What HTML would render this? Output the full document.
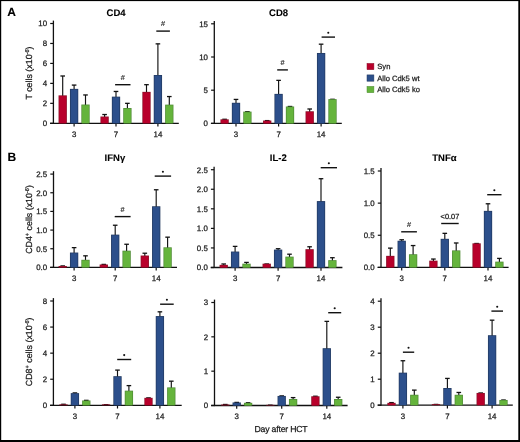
<!DOCTYPE html>
<html><head><meta charset="utf-8"><style>
html,body{margin:0;padding:0;background:#fff;}
body{width:520px;height:442px;overflow:hidden;}
svg{display:block;filter:blur(0.4px);}
text{text-rendering:geometricPrecision;font-family:"Liberation Sans",sans-serif;fill:#1a1a1a;stroke:#1a1a1a;stroke-width:0.25px;}
.tk{font-size:7.9px;}
.ti{font-size:9.5px;font-weight:bold;fill:#000;stroke:#000;stroke-width:0.1px;}
.pl{font-size:12px;font-weight:bold;fill:#000;stroke:#000;stroke-width:0.1px;}
.yl{font-size:8.85px;}
.sp{font-size:5.6px;}
.xl{font-size:8.7px;letter-spacing:-0.2px;}
.lg{font-size:7.6px;}
.st{font-size:7.5px;font-weight:bold;}
.hs{font-size:7.3px;stroke-width:0.15px;}
.lt{font-size:7.4px;}
</style></head><body>
<svg width="520" height="442" viewBox="0 0 520 442">
<rect width="520" height="442" fill="#fff"/>
<line x1="53.4" y1="20.6" x2="53.4" y2="123.9" stroke="#111" stroke-width="1.3"/>
<line x1="50" y1="123.3" x2="178.8" y2="123.3" stroke="#111" stroke-width="1.3"/>
<line x1="50.2" y1="123.3" x2="53.4" y2="123.3" stroke="#111" stroke-width="1.2"/>
<text x="47.1" y="126.1" class="tk" text-anchor="end">0</text>
<line x1="50.2" y1="103.34" x2="53.4" y2="103.34" stroke="#111" stroke-width="1.2"/>
<text x="47.1" y="106.14" class="tk" text-anchor="end">2</text>
<line x1="50.2" y1="83.38" x2="53.4" y2="83.38" stroke="#111" stroke-width="1.2"/>
<text x="47.1" y="86.18" class="tk" text-anchor="end">4</text>
<line x1="50.2" y1="63.42" x2="53.4" y2="63.42" stroke="#111" stroke-width="1.2"/>
<text x="47.1" y="66.22" class="tk" text-anchor="end">6</text>
<line x1="50.2" y1="43.46" x2="53.4" y2="43.46" stroke="#111" stroke-width="1.2"/>
<text x="47.1" y="46.26" class="tk" text-anchor="end">8</text>
<line x1="50.2" y1="23.5" x2="53.4" y2="23.5" stroke="#111" stroke-width="1.2"/>
<text x="47.1" y="26.3" class="tk" text-anchor="end">10</text>
<line x1="74.1" y1="123.3" x2="74.1" y2="126.5" stroke="#111" stroke-width="1.2"/>
<text x="74.1" y="136.7" class="tk" text-anchor="middle">3</text>
<line x1="62.7" y1="75.99" x2="62.7" y2="96.16" stroke="#111" stroke-width="1.15"/>
<line x1="60.4" y1="75.99" x2="65" y2="75.99" stroke="#111" stroke-width="1.3"/>
<rect x="58.55" y="95.36" width="8.3" height="27.94" fill="#8a1028"/>
<rect x="59.25" y="96.06" width="6.9" height="27.24" fill="#b8002b"/>
<line x1="74.1" y1="85.08" x2="74.1" y2="89.67" stroke="#111" stroke-width="1.15"/>
<line x1="71.8" y1="85.08" x2="76.4" y2="85.08" stroke="#111" stroke-width="1.3"/>
<rect x="69.95" y="88.87" width="8.3" height="34.43" fill="#22395f"/>
<rect x="70.65" y="89.57" width="6.9" height="33.73" fill="#2c4f8b"/>
<line x1="85.5" y1="94.96" x2="85.5" y2="105.34" stroke="#111" stroke-width="1.15"/>
<line x1="83.2" y1="94.96" x2="87.8" y2="94.96" stroke="#111" stroke-width="1.3"/>
<rect x="81.35" y="104.54" width="8.3" height="18.76" fill="#4f8a35"/>
<rect x="82.05" y="105.24" width="6.9" height="18.06" fill="#65b43c"/>
<line x1="116" y1="123.3" x2="116" y2="126.5" stroke="#111" stroke-width="1.2"/>
<text x="116" y="136.7" class="tk" text-anchor="middle">7</text>
<line x1="104.6" y1="114.52" x2="104.6" y2="117.31" stroke="#111" stroke-width="1.15"/>
<line x1="102.3" y1="114.52" x2="106.9" y2="114.52" stroke="#111" stroke-width="1.3"/>
<rect x="100.45" y="116.51" width="8.3" height="6.79" fill="#8a1028"/>
<rect x="101.15" y="117.21" width="6.9" height="6.09" fill="#b8002b"/>
<line x1="116" y1="91.46" x2="116" y2="97.45" stroke="#111" stroke-width="1.15"/>
<line x1="113.7" y1="91.46" x2="118.3" y2="91.46" stroke="#111" stroke-width="1.3"/>
<rect x="111.85" y="96.65" width="8.3" height="26.65" fill="#22395f"/>
<rect x="112.55" y="97.35" width="6.9" height="25.95" fill="#2c4f8b"/>
<line x1="127.4" y1="103.34" x2="127.4" y2="108.83" stroke="#111" stroke-width="1.15"/>
<line x1="125.1" y1="103.34" x2="129.7" y2="103.34" stroke="#111" stroke-width="1.3"/>
<rect x="123.25" y="108.03" width="8.3" height="15.27" fill="#4f8a35"/>
<rect x="123.95" y="108.73" width="6.9" height="14.57" fill="#65b43c"/>
<line x1="157.9" y1="123.3" x2="157.9" y2="126.5" stroke="#111" stroke-width="1.2"/>
<text x="157.9" y="136.7" class="tk" text-anchor="middle">14</text>
<line x1="146.5" y1="84.68" x2="146.5" y2="92.66" stroke="#111" stroke-width="1.15"/>
<line x1="144.2" y1="84.68" x2="148.8" y2="84.68" stroke="#111" stroke-width="1.3"/>
<rect x="142.35" y="91.86" width="8.3" height="31.44" fill="#8a1028"/>
<rect x="143.05" y="92.56" width="6.9" height="30.74" fill="#b8002b"/>
<line x1="157.9" y1="43.86" x2="157.9" y2="75.8" stroke="#111" stroke-width="1.15"/>
<line x1="155.6" y1="43.86" x2="160.2" y2="43.86" stroke="#111" stroke-width="1.3"/>
<rect x="153.75" y="75" width="8.3" height="48.3" fill="#22395f"/>
<rect x="154.45" y="75.7" width="6.9" height="47.6" fill="#2c4f8b"/>
<line x1="169.3" y1="96.55" x2="169.3" y2="105.44" stroke="#111" stroke-width="1.15"/>
<line x1="167" y1="96.55" x2="171.6" y2="96.55" stroke="#111" stroke-width="1.3"/>
<rect x="165.15" y="104.64" width="8.3" height="18.66" fill="#4f8a35"/>
<rect x="165.85" y="105.34" width="6.9" height="17.96" fill="#65b43c"/>
<line x1="115.1" y1="84.7" x2="130.5" y2="84.7" stroke="#111" stroke-width="1.4"/>
<text x="122.8" y="79.7" class="hs" text-anchor="middle">#</text>
<line x1="156.3" y1="31.1" x2="169.9" y2="31.1" stroke="#111" stroke-width="1.4"/>
<text x="163.1" y="26.1" class="hs" text-anchor="middle">#</text>
<text x="116.1" y="15.7" class="ti" text-anchor="middle">CD4</text>
<line x1="214.3" y1="20.9" x2="214.3" y2="124" stroke="#111" stroke-width="1.3"/>
<line x1="210.9" y1="123.4" x2="341.8" y2="123.4" stroke="#111" stroke-width="1.3"/>
<line x1="211.1" y1="123.4" x2="214.3" y2="123.4" stroke="#111" stroke-width="1.2"/>
<text x="208" y="126.2" class="tk" text-anchor="end">0</text>
<line x1="211.1" y1="90.2" x2="214.3" y2="90.2" stroke="#111" stroke-width="1.2"/>
<text x="208" y="93" class="tk" text-anchor="end">5</text>
<line x1="211.1" y1="57" x2="214.3" y2="57" stroke="#111" stroke-width="1.2"/>
<text x="208" y="59.8" class="tk" text-anchor="end">10</text>
<line x1="211.1" y1="23.8" x2="214.3" y2="23.8" stroke="#111" stroke-width="1.2"/>
<text x="208" y="26.6" class="tk" text-anchor="end">15</text>
<line x1="236" y1="123.4" x2="236" y2="126.6" stroke="#111" stroke-width="1.2"/>
<text x="236" y="136.8" class="tk" text-anchor="middle">3</text>
<line x1="224.6" y1="119.28" x2="224.6" y2="120.12" stroke="#111" stroke-width="1.15"/>
<line x1="222.3" y1="119.28" x2="226.9" y2="119.28" stroke="#111" stroke-width="1.3"/>
<rect x="220.45" y="119.32" width="8.3" height="4.08" fill="#8a1028"/>
<rect x="221.15" y="120.02" width="6.9" height="3.38" fill="#b8002b"/>
<line x1="236" y1="99.43" x2="236" y2="103.58" stroke="#111" stroke-width="1.15"/>
<line x1="233.7" y1="99.43" x2="238.3" y2="99.43" stroke="#111" stroke-width="1.3"/>
<rect x="231.85" y="102.78" width="8.3" height="20.62" fill="#22395f"/>
<rect x="232.55" y="103.48" width="6.9" height="19.92" fill="#2c4f8b"/>
<line x1="245.1" y1="111.71" x2="249.7" y2="111.71" stroke="#111" stroke-width="1.3"/>
<rect x="243.25" y="111.61" width="8.3" height="11.79" fill="#4f8a35"/>
<rect x="243.95" y="112.31" width="6.9" height="11.09" fill="#65b43c"/>
<line x1="278.6" y1="123.4" x2="278.6" y2="126.6" stroke="#111" stroke-width="1.2"/>
<text x="278.6" y="136.8" class="tk" text-anchor="middle">7</text>
<line x1="264.9" y1="120.61" x2="269.5" y2="120.61" stroke="#111" stroke-width="1.3"/>
<rect x="263.05" y="120.51" width="8.3" height="2.89" fill="#8a1028"/>
<rect x="263.75" y="121.21" width="6.9" height="2.19" fill="#b8002b"/>
<line x1="278.6" y1="80.37" x2="278.6" y2="94.68" stroke="#111" stroke-width="1.15"/>
<line x1="276.3" y1="80.37" x2="280.9" y2="80.37" stroke="#111" stroke-width="1.3"/>
<rect x="274.45" y="93.88" width="8.3" height="29.52" fill="#22395f"/>
<rect x="275.15" y="94.58" width="6.9" height="28.82" fill="#2c4f8b"/>
<line x1="290" y1="106.47" x2="290" y2="107.3" stroke="#111" stroke-width="1.15"/>
<line x1="287.7" y1="106.47" x2="292.3" y2="106.47" stroke="#111" stroke-width="1.3"/>
<rect x="285.85" y="106.5" width="8.3" height="16.9" fill="#4f8a35"/>
<rect x="286.55" y="107.2" width="6.9" height="16.2" fill="#65b43c"/>
<line x1="321.1" y1="123.4" x2="321.1" y2="126.6" stroke="#111" stroke-width="1.2"/>
<text x="321.1" y="136.8" class="tk" text-anchor="middle">14</text>
<line x1="309.7" y1="108.99" x2="309.7" y2="112.08" stroke="#111" stroke-width="1.15"/>
<line x1="307.4" y1="108.99" x2="312" y2="108.99" stroke="#111" stroke-width="1.3"/>
<rect x="305.55" y="111.28" width="8.3" height="12.12" fill="#8a1028"/>
<rect x="306.25" y="111.98" width="6.9" height="11.42" fill="#b8002b"/>
<line x1="321.1" y1="44.18" x2="321.1" y2="53.78" stroke="#111" stroke-width="1.15"/>
<line x1="318.8" y1="44.18" x2="323.4" y2="44.18" stroke="#111" stroke-width="1.3"/>
<rect x="316.95" y="52.98" width="8.3" height="70.42" fill="#22395f"/>
<rect x="317.65" y="53.68" width="6.9" height="69.72" fill="#2c4f8b"/>
<line x1="330.2" y1="99.3" x2="334.8" y2="99.3" stroke="#111" stroke-width="1.3"/>
<rect x="328.35" y="99.13" width="8.3" height="24.27" fill="#4f8a35"/>
<rect x="329.05" y="99.83" width="6.9" height="23.57" fill="#65b43c"/>
<line x1="277.2" y1="69.9" x2="287.9" y2="69.9" stroke="#111" stroke-width="1.4"/>
<text x="282.55" y="64.9" class="hs" text-anchor="middle">#</text>
<line x1="321.6" y1="37.1" x2="335" y2="37.1" stroke="#111" stroke-width="1.4"/>
<circle cx="328.3" cy="32.7" r="1.05" fill="#111"/>
<text x="278.6" y="16.2" class="ti" text-anchor="middle">CD8</text>
<line x1="53.5" y1="171.2" x2="53.5" y2="268" stroke="#111" stroke-width="1.3"/>
<line x1="50.1" y1="267.4" x2="177" y2="267.4" stroke="#111" stroke-width="1.3"/>
<line x1="50.3" y1="267.4" x2="53.5" y2="267.4" stroke="#111" stroke-width="1.2"/>
<text x="47.2" y="270.2" class="tk" text-anchor="end">0.0</text>
<line x1="50.3" y1="248.74" x2="53.5" y2="248.74" stroke="#111" stroke-width="1.2"/>
<text x="47.2" y="251.54" class="tk" text-anchor="end">0.5</text>
<line x1="50.3" y1="230.08" x2="53.5" y2="230.08" stroke="#111" stroke-width="1.2"/>
<text x="47.2" y="232.88" class="tk" text-anchor="end">1.0</text>
<line x1="50.3" y1="211.42" x2="53.5" y2="211.42" stroke="#111" stroke-width="1.2"/>
<text x="47.2" y="214.22" class="tk" text-anchor="end">1.5</text>
<line x1="50.3" y1="192.76" x2="53.5" y2="192.76" stroke="#111" stroke-width="1.2"/>
<text x="47.2" y="195.56" class="tk" text-anchor="end">2.0</text>
<line x1="50.3" y1="174.1" x2="53.5" y2="174.1" stroke="#111" stroke-width="1.2"/>
<text x="47.2" y="176.9" class="tk" text-anchor="end">2.5</text>
<line x1="74.1" y1="267.4" x2="74.1" y2="270.6" stroke="#111" stroke-width="1.2"/>
<text x="74.1" y="280.8" class="tk" text-anchor="middle">3</text>
<line x1="62.7" y1="265.91" x2="62.7" y2="266.78" stroke="#111" stroke-width="1.15"/>
<line x1="60.4" y1="265.91" x2="65" y2="265.91" stroke="#111" stroke-width="1.3"/>
<rect x="58.55" y="265.98" width="8.3" height="1.42" fill="#8a1028"/>
<rect x="59.25" y="266.68" width="6.9" height="0.72" fill="#b8002b"/>
<line x1="74.1" y1="247.62" x2="74.1" y2="253.35" stroke="#111" stroke-width="1.15"/>
<line x1="71.8" y1="247.62" x2="76.4" y2="247.62" stroke="#111" stroke-width="1.3"/>
<rect x="69.95" y="252.55" width="8.3" height="14.85" fill="#22395f"/>
<rect x="70.65" y="253.25" width="6.9" height="14.15" fill="#2c4f8b"/>
<line x1="85.5" y1="255.83" x2="85.5" y2="260.59" stroke="#111" stroke-width="1.15"/>
<line x1="83.2" y1="255.83" x2="87.8" y2="255.83" stroke="#111" stroke-width="1.3"/>
<rect x="81.35" y="259.79" width="8.3" height="7.61" fill="#4f8a35"/>
<rect x="82.05" y="260.49" width="6.9" height="6.91" fill="#65b43c"/>
<line x1="115.2" y1="267.4" x2="115.2" y2="270.6" stroke="#111" stroke-width="1.2"/>
<text x="115.2" y="280.8" class="tk" text-anchor="middle">7</text>
<line x1="103.8" y1="264.41" x2="103.8" y2="265.29" stroke="#111" stroke-width="1.15"/>
<line x1="101.5" y1="264.41" x2="106.1" y2="264.41" stroke="#111" stroke-width="1.3"/>
<rect x="99.65" y="264.49" width="8.3" height="2.91" fill="#8a1028"/>
<rect x="100.35" y="265.19" width="6.9" height="2.21" fill="#b8002b"/>
<line x1="115.2" y1="225.23" x2="115.2" y2="235.43" stroke="#111" stroke-width="1.15"/>
<line x1="112.9" y1="225.23" x2="117.5" y2="225.23" stroke="#111" stroke-width="1.3"/>
<rect x="111.05" y="234.63" width="8.3" height="32.77" fill="#22395f"/>
<rect x="111.75" y="235.33" width="6.9" height="32.07" fill="#2c4f8b"/>
<line x1="126.6" y1="244.26" x2="126.6" y2="251.48" stroke="#111" stroke-width="1.15"/>
<line x1="124.3" y1="244.26" x2="128.9" y2="244.26" stroke="#111" stroke-width="1.3"/>
<rect x="122.45" y="250.68" width="8.3" height="16.72" fill="#4f8a35"/>
<rect x="123.15" y="251.38" width="6.9" height="16.02" fill="#65b43c"/>
<line x1="156.2" y1="267.4" x2="156.2" y2="270.6" stroke="#111" stroke-width="1.2"/>
<text x="156.2" y="280.8" class="tk" text-anchor="middle">14</text>
<line x1="144.8" y1="253.22" x2="144.8" y2="256.33" stroke="#111" stroke-width="1.15"/>
<line x1="142.5" y1="253.22" x2="147.1" y2="253.22" stroke="#111" stroke-width="1.3"/>
<rect x="140.65" y="255.53" width="8.3" height="11.87" fill="#8a1028"/>
<rect x="141.35" y="256.23" width="6.9" height="11.17" fill="#b8002b"/>
<line x1="156.2" y1="189.77" x2="156.2" y2="207.07" stroke="#111" stroke-width="1.15"/>
<line x1="153.9" y1="189.77" x2="158.5" y2="189.77" stroke="#111" stroke-width="1.3"/>
<rect x="152.05" y="206.27" width="8.3" height="61.13" fill="#22395f"/>
<rect x="152.75" y="206.97" width="6.9" height="60.43" fill="#2c4f8b"/>
<line x1="167.6" y1="237.17" x2="167.6" y2="248.12" stroke="#111" stroke-width="1.15"/>
<line x1="165.3" y1="237.17" x2="169.9" y2="237.17" stroke="#111" stroke-width="1.3"/>
<rect x="163.45" y="247.32" width="8.3" height="20.08" fill="#4f8a35"/>
<rect x="164.15" y="248.02" width="6.9" height="19.38" fill="#65b43c"/>
<line x1="114.7" y1="216.6" x2="130.6" y2="216.6" stroke="#111" stroke-width="1.4"/>
<text x="122.65" y="211.6" class="hs" text-anchor="middle">#</text>
<line x1="154.7" y1="176.1" x2="171.1" y2="176.1" stroke="#111" stroke-width="1.4"/>
<circle cx="162.9" cy="171.7" r="1.05" fill="#111"/>
<text x="114.9" y="161.2" class="ti" text-anchor="middle">IFN&#947;</text>
<line x1="214.1" y1="166.8" x2="214.1" y2="268.1" stroke="#111" stroke-width="1.3"/>
<line x1="210.7" y1="267.5" x2="342.4" y2="267.5" stroke="#111" stroke-width="1.3"/>
<line x1="210.9" y1="267.5" x2="214.1" y2="267.5" stroke="#111" stroke-width="1.2"/>
<text x="207.8" y="270.3" class="tk" text-anchor="end">0.0</text>
<line x1="210.9" y1="247.94" x2="214.1" y2="247.94" stroke="#111" stroke-width="1.2"/>
<text x="207.8" y="250.74" class="tk" text-anchor="end">0.5</text>
<line x1="210.9" y1="228.38" x2="214.1" y2="228.38" stroke="#111" stroke-width="1.2"/>
<text x="207.8" y="231.18" class="tk" text-anchor="end">1.0</text>
<line x1="210.9" y1="208.82" x2="214.1" y2="208.82" stroke="#111" stroke-width="1.2"/>
<text x="207.8" y="211.62" class="tk" text-anchor="end">1.5</text>
<line x1="210.9" y1="189.26" x2="214.1" y2="189.26" stroke="#111" stroke-width="1.2"/>
<text x="207.8" y="192.06" class="tk" text-anchor="end">2.0</text>
<line x1="210.9" y1="169.7" x2="214.1" y2="169.7" stroke="#111" stroke-width="1.2"/>
<text x="207.8" y="172.5" class="tk" text-anchor="end">2.5</text>
<line x1="235.1" y1="267.5" x2="235.1" y2="270.7" stroke="#111" stroke-width="1.2"/>
<text x="235.1" y="280.9" class="tk" text-anchor="middle">3</text>
<line x1="223.7" y1="263.98" x2="223.7" y2="265.65" stroke="#111" stroke-width="1.15"/>
<line x1="221.4" y1="263.98" x2="226" y2="263.98" stroke="#111" stroke-width="1.3"/>
<rect x="219.55" y="264.85" width="8.3" height="2.65" fill="#8a1028"/>
<rect x="220.25" y="265.55" width="6.9" height="1.95" fill="#b8002b"/>
<line x1="235.1" y1="246.38" x2="235.1" y2="252.35" stroke="#111" stroke-width="1.15"/>
<line x1="232.8" y1="246.38" x2="237.4" y2="246.38" stroke="#111" stroke-width="1.3"/>
<rect x="230.95" y="251.55" width="8.3" height="15.95" fill="#22395f"/>
<rect x="231.65" y="252.25" width="6.9" height="15.25" fill="#2c4f8b"/>
<line x1="246.5" y1="262.41" x2="246.5" y2="264.48" stroke="#111" stroke-width="1.15"/>
<line x1="244.2" y1="262.41" x2="248.8" y2="262.41" stroke="#111" stroke-width="1.3"/>
<rect x="242.35" y="263.68" width="8.3" height="3.82" fill="#4f8a35"/>
<rect x="243.05" y="264.38" width="6.9" height="3.12" fill="#65b43c"/>
<line x1="278.1" y1="267.5" x2="278.1" y2="270.7" stroke="#111" stroke-width="1.2"/>
<text x="278.1" y="280.9" class="tk" text-anchor="middle">7</text>
<line x1="264.4" y1="263.98" x2="269" y2="263.98" stroke="#111" stroke-width="1.3"/>
<rect x="262.55" y="263.68" width="8.3" height="3.82" fill="#8a1028"/>
<rect x="263.25" y="264.38" width="6.9" height="3.12" fill="#b8002b"/>
<line x1="278.1" y1="248.72" x2="278.1" y2="250.4" stroke="#111" stroke-width="1.15"/>
<line x1="275.8" y1="248.72" x2="280.4" y2="248.72" stroke="#111" stroke-width="1.3"/>
<rect x="273.95" y="249.6" width="8.3" height="17.9" fill="#22395f"/>
<rect x="274.65" y="250.3" width="6.9" height="17.2" fill="#2c4f8b"/>
<line x1="289.5" y1="254.2" x2="289.5" y2="257.44" stroke="#111" stroke-width="1.15"/>
<line x1="287.2" y1="254.2" x2="291.8" y2="254.2" stroke="#111" stroke-width="1.3"/>
<rect x="285.35" y="256.64" width="8.3" height="10.86" fill="#4f8a35"/>
<rect x="286.05" y="257.34" width="6.9" height="10.16" fill="#65b43c"/>
<line x1="321" y1="267.5" x2="321" y2="270.7" stroke="#111" stroke-width="1.2"/>
<text x="321" y="280.9" class="tk" text-anchor="middle">14</text>
<line x1="309.6" y1="246.77" x2="309.6" y2="250" stroke="#111" stroke-width="1.15"/>
<line x1="307.3" y1="246.77" x2="311.9" y2="246.77" stroke="#111" stroke-width="1.3"/>
<rect x="305.45" y="249.2" width="8.3" height="18.3" fill="#8a1028"/>
<rect x="306.15" y="249.9" width="6.9" height="17.6" fill="#b8002b"/>
<line x1="321" y1="178.7" x2="321" y2="201.89" stroke="#111" stroke-width="1.15"/>
<line x1="318.7" y1="178.7" x2="323.3" y2="178.7" stroke="#111" stroke-width="1.3"/>
<rect x="316.85" y="201.09" width="8.3" height="66.41" fill="#22395f"/>
<rect x="317.55" y="201.79" width="6.9" height="65.71" fill="#2c4f8b"/>
<line x1="332.4" y1="257.72" x2="332.4" y2="260.96" stroke="#111" stroke-width="1.15"/>
<line x1="330.1" y1="257.72" x2="334.7" y2="257.72" stroke="#111" stroke-width="1.3"/>
<rect x="328.25" y="260.16" width="8.3" height="7.34" fill="#4f8a35"/>
<rect x="328.95" y="260.86" width="6.9" height="6.64" fill="#65b43c"/>
<line x1="320.7" y1="167.7" x2="337" y2="167.7" stroke="#111" stroke-width="1.4"/>
<circle cx="328.85" cy="163.3" r="1.05" fill="#111"/>
<text x="278.3" y="161" class="ti" text-anchor="middle">IL-2</text>
<line x1="381" y1="168.1" x2="381" y2="268" stroke="#111" stroke-width="1.3"/>
<line x1="377.6" y1="267.4" x2="508.6" y2="267.4" stroke="#111" stroke-width="1.3"/>
<line x1="377.8" y1="267.4" x2="381" y2="267.4" stroke="#111" stroke-width="1.2"/>
<text x="374.7" y="270.2" class="tk" text-anchor="end">0.0</text>
<line x1="377.8" y1="235.27" x2="381" y2="235.27" stroke="#111" stroke-width="1.2"/>
<text x="374.7" y="238.07" class="tk" text-anchor="end">0.5</text>
<line x1="377.8" y1="203.13" x2="381" y2="203.13" stroke="#111" stroke-width="1.2"/>
<text x="374.7" y="205.93" class="tk" text-anchor="end">1.0</text>
<line x1="377.8" y1="171" x2="381" y2="171" stroke="#111" stroke-width="1.2"/>
<text x="374.7" y="173.8" class="tk" text-anchor="end">1.5</text>
<line x1="401.7" y1="267.4" x2="401.7" y2="270.6" stroke="#111" stroke-width="1.2"/>
<text x="401.7" y="280.8" class="tk" text-anchor="middle">3</text>
<line x1="390.3" y1="248.12" x2="390.3" y2="256.65" stroke="#111" stroke-width="1.15"/>
<line x1="388" y1="248.12" x2="392.6" y2="248.12" stroke="#111" stroke-width="1.3"/>
<rect x="386.15" y="255.85" width="8.3" height="11.55" fill="#8a1028"/>
<rect x="386.85" y="256.55" width="6.9" height="10.85" fill="#b8002b"/>
<line x1="401.7" y1="239.77" x2="401.7" y2="241.55" stroke="#111" stroke-width="1.15"/>
<line x1="399.4" y1="239.77" x2="404" y2="239.77" stroke="#111" stroke-width="1.3"/>
<rect x="397.55" y="240.75" width="8.3" height="26.65" fill="#22395f"/>
<rect x="398.25" y="241.45" width="6.9" height="25.95" fill="#2c4f8b"/>
<line x1="413.1" y1="245.55" x2="413.1" y2="255.05" stroke="#111" stroke-width="1.15"/>
<line x1="410.8" y1="245.55" x2="415.4" y2="245.55" stroke="#111" stroke-width="1.3"/>
<rect x="408.95" y="254.25" width="8.3" height="13.15" fill="#4f8a35"/>
<rect x="409.65" y="254.95" width="6.9" height="12.45" fill="#65b43c"/>
<line x1="444.8" y1="267.4" x2="444.8" y2="270.6" stroke="#111" stroke-width="1.2"/>
<text x="444.8" y="280.8" class="tk" text-anchor="middle">7</text>
<line x1="433.4" y1="259.05" x2="433.4" y2="261.47" stroke="#111" stroke-width="1.15"/>
<line x1="431.1" y1="259.05" x2="435.7" y2="259.05" stroke="#111" stroke-width="1.3"/>
<rect x="429.25" y="260.67" width="8.3" height="6.73" fill="#8a1028"/>
<rect x="429.95" y="261.37" width="6.9" height="6.03" fill="#b8002b"/>
<line x1="444.8" y1="233.34" x2="444.8" y2="239.62" stroke="#111" stroke-width="1.15"/>
<line x1="442.5" y1="233.34" x2="447.1" y2="233.34" stroke="#111" stroke-width="1.3"/>
<rect x="440.65" y="238.82" width="8.3" height="28.58" fill="#22395f"/>
<rect x="441.35" y="239.52" width="6.9" height="27.88" fill="#2c4f8b"/>
<line x1="456.2" y1="242.98" x2="456.2" y2="251.19" stroke="#111" stroke-width="1.15"/>
<line x1="453.9" y1="242.98" x2="458.5" y2="242.98" stroke="#111" stroke-width="1.3"/>
<rect x="452.05" y="250.39" width="8.3" height="17.01" fill="#4f8a35"/>
<rect x="452.75" y="251.09" width="6.9" height="16.31" fill="#65b43c"/>
<line x1="488" y1="267.4" x2="488" y2="270.6" stroke="#111" stroke-width="1.2"/>
<text x="488" y="280.8" class="tk" text-anchor="middle">14</text>
<line x1="474.3" y1="243.49" x2="478.9" y2="243.49" stroke="#111" stroke-width="1.3"/>
<rect x="472.45" y="243.32" width="8.3" height="24.08" fill="#8a1028"/>
<rect x="473.15" y="244.02" width="6.9" height="23.38" fill="#b8002b"/>
<line x1="488" y1="203.78" x2="488" y2="211.67" stroke="#111" stroke-width="1.15"/>
<line x1="485.7" y1="203.78" x2="490.3" y2="203.78" stroke="#111" stroke-width="1.3"/>
<rect x="483.85" y="210.87" width="8.3" height="56.53" fill="#22395f"/>
<rect x="484.55" y="211.57" width="6.9" height="55.83" fill="#2c4f8b"/>
<line x1="499.4" y1="258.4" x2="499.4" y2="262.44" stroke="#111" stroke-width="1.15"/>
<line x1="497.1" y1="258.4" x2="501.7" y2="258.4" stroke="#111" stroke-width="1.3"/>
<rect x="495.25" y="261.64" width="8.3" height="5.76" fill="#4f8a35"/>
<rect x="495.95" y="262.34" width="6.9" height="5.06" fill="#65b43c"/>
<line x1="401.2" y1="231.8" x2="416.9" y2="231.8" stroke="#111" stroke-width="1.4"/>
<text x="409.05" y="226.8" class="hs" text-anchor="middle">#</text>
<line x1="441.2" y1="223.5" x2="458.7" y2="223.5" stroke="#111" stroke-width="1.4"/>
<text x="449.95" y="219.3" class="lt" text-anchor="middle">&lt;0.07</text>
<line x1="487.2" y1="194.7" x2="501.5" y2="194.7" stroke="#111" stroke-width="1.4"/>
<circle cx="494.35" cy="190.3" r="1.05" fill="#111"/>
<text x="444.4" y="160.9" class="ti" text-anchor="middle">TNF&#945;</text>
<line x1="53.4" y1="298.1" x2="53.4" y2="405.9" stroke="#111" stroke-width="1.3"/>
<line x1="50" y1="405.3" x2="181.7" y2="405.3" stroke="#111" stroke-width="1.3"/>
<line x1="50.2" y1="405.3" x2="53.4" y2="405.3" stroke="#111" stroke-width="1.2"/>
<text x="47.1" y="408.1" class="tk" text-anchor="end">0</text>
<line x1="50.2" y1="379.23" x2="53.4" y2="379.23" stroke="#111" stroke-width="1.2"/>
<text x="47.1" y="382.03" class="tk" text-anchor="end">2</text>
<line x1="50.2" y1="353.15" x2="53.4" y2="353.15" stroke="#111" stroke-width="1.2"/>
<text x="47.1" y="355.95" class="tk" text-anchor="end">4</text>
<line x1="50.2" y1="327.07" x2="53.4" y2="327.07" stroke="#111" stroke-width="1.2"/>
<text x="47.1" y="329.88" class="tk" text-anchor="end">6</text>
<line x1="50.2" y1="301" x2="53.4" y2="301" stroke="#111" stroke-width="1.2"/>
<text x="47.1" y="303.8" class="tk" text-anchor="end">8</text>
<line x1="74.9" y1="405.3" x2="74.9" y2="408.5" stroke="#111" stroke-width="1.2"/>
<text x="74.9" y="418.7" class="tk" text-anchor="middle">3</text>
<line x1="63.5" y1="404.26" x2="63.5" y2="405.15" stroke="#111" stroke-width="1.15"/>
<line x1="61.2" y1="404.26" x2="65.8" y2="404.26" stroke="#111" stroke-width="1.3"/>
<rect x="59.35" y="404.35" width="8.3" height="0.95" fill="#8a1028"/>
<line x1="74.9" y1="392.91" x2="74.9" y2="393.94" stroke="#111" stroke-width="1.15"/>
<line x1="72.6" y1="392.91" x2="77.2" y2="392.91" stroke="#111" stroke-width="1.3"/>
<rect x="70.75" y="393.14" width="8.3" height="12.16" fill="#22395f"/>
<rect x="71.45" y="393.84" width="6.9" height="11.46" fill="#2c4f8b"/>
<line x1="86.3" y1="400.35" x2="86.3" y2="401.24" stroke="#111" stroke-width="1.15"/>
<line x1="84" y1="400.35" x2="88.6" y2="400.35" stroke="#111" stroke-width="1.3"/>
<rect x="82.15" y="400.44" width="8.3" height="4.86" fill="#4f8a35"/>
<rect x="82.85" y="401.14" width="6.9" height="4.16" fill="#65b43c"/>
<line x1="117.5" y1="405.3" x2="117.5" y2="408.5" stroke="#111" stroke-width="1.2"/>
<text x="117.5" y="418.7" class="tk" text-anchor="middle">7</text>
<line x1="103.8" y1="404.65" x2="108.4" y2="404.65" stroke="#111" stroke-width="1.3"/>
<rect x="101.95" y="404.35" width="8.3" height="0.95" fill="#8a1028"/>
<line x1="117.5" y1="370.1" x2="117.5" y2="376.99" stroke="#111" stroke-width="1.15"/>
<line x1="115.2" y1="370.1" x2="119.8" y2="370.1" stroke="#111" stroke-width="1.3"/>
<rect x="113.35" y="376.19" width="8.3" height="29.11" fill="#22395f"/>
<rect x="114.05" y="376.89" width="6.9" height="28.41" fill="#2c4f8b"/>
<line x1="128.9" y1="385.61" x2="128.9" y2="391.46" stroke="#111" stroke-width="1.15"/>
<line x1="126.6" y1="385.61" x2="131.2" y2="385.61" stroke="#111" stroke-width="1.3"/>
<rect x="124.75" y="390.66" width="8.3" height="14.64" fill="#4f8a35"/>
<rect x="125.45" y="391.36" width="6.9" height="13.94" fill="#65b43c"/>
<line x1="159.9" y1="405.3" x2="159.9" y2="408.5" stroke="#111" stroke-width="1.2"/>
<text x="159.9" y="418.7" class="tk" text-anchor="middle">14</text>
<line x1="146.2" y1="397.87" x2="150.8" y2="397.87" stroke="#111" stroke-width="1.3"/>
<rect x="144.35" y="397.83" width="8.3" height="7.47" fill="#8a1028"/>
<rect x="145.05" y="398.53" width="6.9" height="6.77" fill="#b8002b"/>
<line x1="159.9" y1="311.82" x2="159.9" y2="316.88" stroke="#111" stroke-width="1.15"/>
<line x1="157.6" y1="311.82" x2="162.2" y2="311.82" stroke="#111" stroke-width="1.3"/>
<rect x="155.75" y="316.08" width="8.3" height="89.22" fill="#22395f"/>
<rect x="156.45" y="316.78" width="6.9" height="88.52" fill="#2c4f8b"/>
<line x1="171.3" y1="381.18" x2="171.3" y2="388.2" stroke="#111" stroke-width="1.15"/>
<line x1="169" y1="381.18" x2="173.6" y2="381.18" stroke="#111" stroke-width="1.3"/>
<rect x="167.15" y="387.4" width="8.3" height="17.9" fill="#4f8a35"/>
<rect x="167.85" y="388.1" width="6.9" height="17.2" fill="#65b43c"/>
<line x1="117.2" y1="359.5" x2="131.2" y2="359.5" stroke="#111" stroke-width="1.4"/>
<circle cx="124.2" cy="355.1" r="1.05" fill="#111"/>
<line x1="160.1" y1="304.2" x2="173.7" y2="304.2" stroke="#111" stroke-width="1.4"/>
<circle cx="166.9" cy="299.8" r="1.05" fill="#111"/>
<line x1="214.5" y1="299.6" x2="214.5" y2="406.1" stroke="#111" stroke-width="1.3"/>
<line x1="211.1" y1="405.5" x2="347.6" y2="405.5" stroke="#111" stroke-width="1.3"/>
<line x1="211.3" y1="405.5" x2="214.5" y2="405.5" stroke="#111" stroke-width="1.2"/>
<text x="208.2" y="408.3" class="tk" text-anchor="end">0</text>
<line x1="211.3" y1="371.17" x2="214.5" y2="371.17" stroke="#111" stroke-width="1.2"/>
<text x="208.2" y="373.97" class="tk" text-anchor="end">1</text>
<line x1="211.3" y1="336.83" x2="214.5" y2="336.83" stroke="#111" stroke-width="1.2"/>
<text x="208.2" y="339.63" class="tk" text-anchor="end">2</text>
<line x1="211.3" y1="302.5" x2="214.5" y2="302.5" stroke="#111" stroke-width="1.2"/>
<text x="208.2" y="305.3" class="tk" text-anchor="end">3</text>
<line x1="236.7" y1="405.5" x2="236.7" y2="408.7" stroke="#111" stroke-width="1.2"/>
<text x="236.7" y="418.9" class="tk" text-anchor="middle">3</text>
<line x1="225.3" y1="404.47" x2="225.3" y2="405.31" stroke="#111" stroke-width="1.15"/>
<line x1="223" y1="404.47" x2="227.6" y2="404.47" stroke="#111" stroke-width="1.3"/>
<rect x="221.15" y="404.51" width="8.3" height="0.99" fill="#8a1028"/>
<line x1="236.7" y1="402.41" x2="236.7" y2="403.25" stroke="#111" stroke-width="1.15"/>
<line x1="234.4" y1="402.41" x2="239" y2="402.41" stroke="#111" stroke-width="1.3"/>
<rect x="232.55" y="402.45" width="8.3" height="3.05" fill="#22395f"/>
<rect x="233.25" y="403.15" width="6.9" height="2.35" fill="#2c4f8b"/>
<line x1="248.1" y1="402.75" x2="248.1" y2="403.6" stroke="#111" stroke-width="1.15"/>
<line x1="245.8" y1="402.75" x2="250.4" y2="402.75" stroke="#111" stroke-width="1.3"/>
<rect x="243.95" y="402.8" width="8.3" height="2.7" fill="#4f8a35"/>
<rect x="244.65" y="403.5" width="6.9" height="2" fill="#65b43c"/>
<line x1="281.7" y1="405.5" x2="281.7" y2="408.7" stroke="#111" stroke-width="1.2"/>
<text x="281.7" y="418.9" class="tk" text-anchor="middle">7</text>
<line x1="268" y1="405.16" x2="272.6" y2="405.16" stroke="#111" stroke-width="1.3"/>
<rect x="266.15" y="404.86" width="8.3" height="0.64" fill="#8a1028"/>
<line x1="281.7" y1="395.89" x2="281.7" y2="396.73" stroke="#111" stroke-width="1.15"/>
<line x1="279.4" y1="395.89" x2="284" y2="395.89" stroke="#111" stroke-width="1.3"/>
<rect x="277.55" y="395.93" width="8.3" height="9.57" fill="#22395f"/>
<rect x="278.25" y="396.63" width="6.9" height="8.87" fill="#2c4f8b"/>
<line x1="293.1" y1="397.6" x2="293.1" y2="399.82" stroke="#111" stroke-width="1.15"/>
<line x1="290.8" y1="397.6" x2="295.4" y2="397.6" stroke="#111" stroke-width="1.3"/>
<rect x="288.95" y="399.02" width="8.3" height="6.48" fill="#4f8a35"/>
<rect x="289.65" y="399.72" width="6.9" height="5.78" fill="#65b43c"/>
<line x1="326.8" y1="405.5" x2="326.8" y2="408.7" stroke="#111" stroke-width="1.2"/>
<text x="326.8" y="418.9" class="tk" text-anchor="middle">14</text>
<line x1="315.4" y1="396.23" x2="315.4" y2="397.07" stroke="#111" stroke-width="1.15"/>
<line x1="313.1" y1="396.23" x2="317.7" y2="396.23" stroke="#111" stroke-width="1.3"/>
<rect x="311.25" y="396.27" width="8.3" height="9.23" fill="#8a1028"/>
<rect x="311.95" y="396.97" width="6.9" height="8.53" fill="#b8002b"/>
<line x1="326.8" y1="321.38" x2="326.8" y2="349.01" stroke="#111" stroke-width="1.15"/>
<line x1="324.5" y1="321.38" x2="329.1" y2="321.38" stroke="#111" stroke-width="1.3"/>
<rect x="322.65" y="348.21" width="8.3" height="57.29" fill="#22395f"/>
<rect x="323.35" y="348.91" width="6.9" height="56.59" fill="#2c4f8b"/>
<line x1="338.2" y1="397.26" x2="338.2" y2="399.82" stroke="#111" stroke-width="1.15"/>
<line x1="335.9" y1="397.26" x2="340.5" y2="397.26" stroke="#111" stroke-width="1.3"/>
<rect x="334.05" y="399.02" width="8.3" height="6.48" fill="#4f8a35"/>
<rect x="334.75" y="399.72" width="6.9" height="5.78" fill="#65b43c"/>
<line x1="328.2" y1="312.7" x2="341.2" y2="312.7" stroke="#111" stroke-width="1.4"/>
<circle cx="334.7" cy="308.3" r="1.05" fill="#111"/>
<line x1="381" y1="298.3" x2="381" y2="405.8" stroke="#111" stroke-width="1.3"/>
<line x1="377.6" y1="405.2" x2="512.8" y2="405.2" stroke="#111" stroke-width="1.3"/>
<line x1="377.8" y1="405.2" x2="381" y2="405.2" stroke="#111" stroke-width="1.2"/>
<text x="374.7" y="408" class="tk" text-anchor="end">0</text>
<line x1="377.8" y1="379.2" x2="381" y2="379.2" stroke="#111" stroke-width="1.2"/>
<text x="374.7" y="382" class="tk" text-anchor="end">1</text>
<line x1="377.8" y1="353.2" x2="381" y2="353.2" stroke="#111" stroke-width="1.2"/>
<text x="374.7" y="356" class="tk" text-anchor="end">2</text>
<line x1="377.8" y1="327.2" x2="381" y2="327.2" stroke="#111" stroke-width="1.2"/>
<text x="374.7" y="330" class="tk" text-anchor="end">3</text>
<line x1="377.8" y1="301.2" x2="381" y2="301.2" stroke="#111" stroke-width="1.2"/>
<text x="374.7" y="304" class="tk" text-anchor="end">4</text>
<line x1="402.9" y1="405.2" x2="402.9" y2="408.4" stroke="#111" stroke-width="1.2"/>
<text x="402.9" y="418.6" class="tk" text-anchor="middle">3</text>
<line x1="391.5" y1="402.6" x2="391.5" y2="403.62" stroke="#111" stroke-width="1.15"/>
<line x1="389.2" y1="402.6" x2="393.8" y2="402.6" stroke="#111" stroke-width="1.3"/>
<rect x="387.35" y="402.82" width="8.3" height="2.38" fill="#8a1028"/>
<rect x="388.05" y="403.52" width="6.9" height="1.68" fill="#b8002b"/>
<line x1="402.9" y1="360.74" x2="402.9" y2="373.46" stroke="#111" stroke-width="1.15"/>
<line x1="400.6" y1="360.74" x2="405.2" y2="360.74" stroke="#111" stroke-width="1.3"/>
<rect x="398.75" y="372.66" width="8.3" height="32.54" fill="#22395f"/>
<rect x="399.45" y="373.36" width="6.9" height="31.84" fill="#2c4f8b"/>
<line x1="414.3" y1="390.12" x2="414.3" y2="395.56" stroke="#111" stroke-width="1.15"/>
<line x1="412" y1="390.12" x2="416.6" y2="390.12" stroke="#111" stroke-width="1.3"/>
<rect x="410.15" y="394.76" width="8.3" height="10.44" fill="#4f8a35"/>
<rect x="410.85" y="395.46" width="6.9" height="9.74" fill="#65b43c"/>
<line x1="447.4" y1="405.2" x2="447.4" y2="408.4" stroke="#111" stroke-width="1.2"/>
<text x="447.4" y="418.6" class="tk" text-anchor="middle">7</text>
<line x1="433.7" y1="404.42" x2="438.3" y2="404.42" stroke="#111" stroke-width="1.3"/>
<rect x="431.85" y="404.12" width="8.3" height="1.08" fill="#8a1028"/>
<line x1="447.4" y1="378.42" x2="447.4" y2="388.8" stroke="#111" stroke-width="1.15"/>
<line x1="445.1" y1="378.42" x2="449.7" y2="378.42" stroke="#111" stroke-width="1.3"/>
<rect x="443.25" y="388" width="8.3" height="17.2" fill="#22395f"/>
<rect x="443.95" y="388.7" width="6.9" height="16.5" fill="#2c4f8b"/>
<line x1="458.8" y1="392.46" x2="458.8" y2="395.56" stroke="#111" stroke-width="1.15"/>
<line x1="456.5" y1="392.46" x2="461.1" y2="392.46" stroke="#111" stroke-width="1.3"/>
<rect x="454.65" y="394.76" width="8.3" height="10.44" fill="#4f8a35"/>
<rect x="455.35" y="395.46" width="6.9" height="9.74" fill="#65b43c"/>
<line x1="492.1" y1="405.2" x2="492.1" y2="408.4" stroke="#111" stroke-width="1.2"/>
<text x="492.1" y="418.6" class="tk" text-anchor="middle">14</text>
<line x1="478.4" y1="392.98" x2="483" y2="392.98" stroke="#111" stroke-width="1.3"/>
<rect x="476.55" y="392.94" width="8.3" height="12.26" fill="#8a1028"/>
<rect x="477.25" y="393.64" width="6.9" height="11.56" fill="#b8002b"/>
<line x1="492.1" y1="320.18" x2="492.1" y2="336.02" stroke="#111" stroke-width="1.15"/>
<line x1="489.8" y1="320.18" x2="494.4" y2="320.18" stroke="#111" stroke-width="1.3"/>
<rect x="487.95" y="335.22" width="8.3" height="69.98" fill="#22395f"/>
<rect x="488.65" y="335.92" width="6.9" height="69.28" fill="#2c4f8b"/>
<line x1="501.2" y1="400" x2="505.8" y2="400" stroke="#111" stroke-width="1.3"/>
<rect x="499.35" y="399.96" width="8.3" height="5.24" fill="#4f8a35"/>
<rect x="500.05" y="400.66" width="6.9" height="4.54" fill="#65b43c"/>
<line x1="402.9" y1="352.2" x2="414.2" y2="352.2" stroke="#111" stroke-width="1.4"/>
<circle cx="408.55" cy="347.8" r="1.05" fill="#111"/>
<line x1="491.4" y1="311.1" x2="503" y2="311.1" stroke="#111" stroke-width="1.4"/>
<circle cx="497.2" cy="306.7" r="1.05" fill="#111"/>
<text x="7.3" y="15.6" class="pl">A</text>
<text x="7.6" y="161" class="pl">B</text>
<text transform="translate(32.4 73) rotate(-90)" class="yl" text-anchor="middle">T cells (x10<tspan class="sp" dy="-3">-6</tspan><tspan dy="3">)</tspan></text>
<text transform="translate(31.8 219.5) rotate(-90)" class="yl" text-anchor="middle">CD4<tspan class="sp" dy="-3">+</tspan><tspan dy="3"> cells (x10</tspan><tspan class="sp" dy="-3">-6</tspan><tspan dy="3">)</tspan></text>
<text transform="translate(32.2 351.8) rotate(-90)" class="yl" text-anchor="middle">CD8<tspan class="sp" dy="-3">+</tspan><tspan dy="3"> cells (x10</tspan><tspan class="sp" dy="-3">-6</tspan><tspan dy="3">)</tspan></text>
<text x="281" y="432.3" class="xl" text-anchor="middle">Day after HCT</text>
<rect x="367" y="63.4" width="6.9" height="6.3" fill="#b8002b" stroke="#8a1028" stroke-width="0.5"/>
<text x="377.3" y="69.2" class="lg">Syn</text>
<rect x="367" y="74.9" width="6.9" height="6.3" fill="#2c4f8b" stroke="#22395f" stroke-width="0.5"/>
<text x="377.3" y="80.7" class="lg">Allo Cdk5 wt</text>
<rect x="367" y="86.4" width="6.9" height="6.3" fill="#65b43c" stroke="#4f8a35" stroke-width="0.5"/>
<text x="377.3" y="92.2" class="lg">Allo Cdk5 ko</text>
<rect x="0" y="0" width="520" height="1.1" fill="#000"/>
<rect x="0" y="0" width="1.2" height="442" fill="#000"/>
<rect x="518.3" y="0" width="1.7" height="442" fill="#000"/>
<rect x="0" y="440" width="520" height="2" fill="#000"/>
</svg>
</body></html>
